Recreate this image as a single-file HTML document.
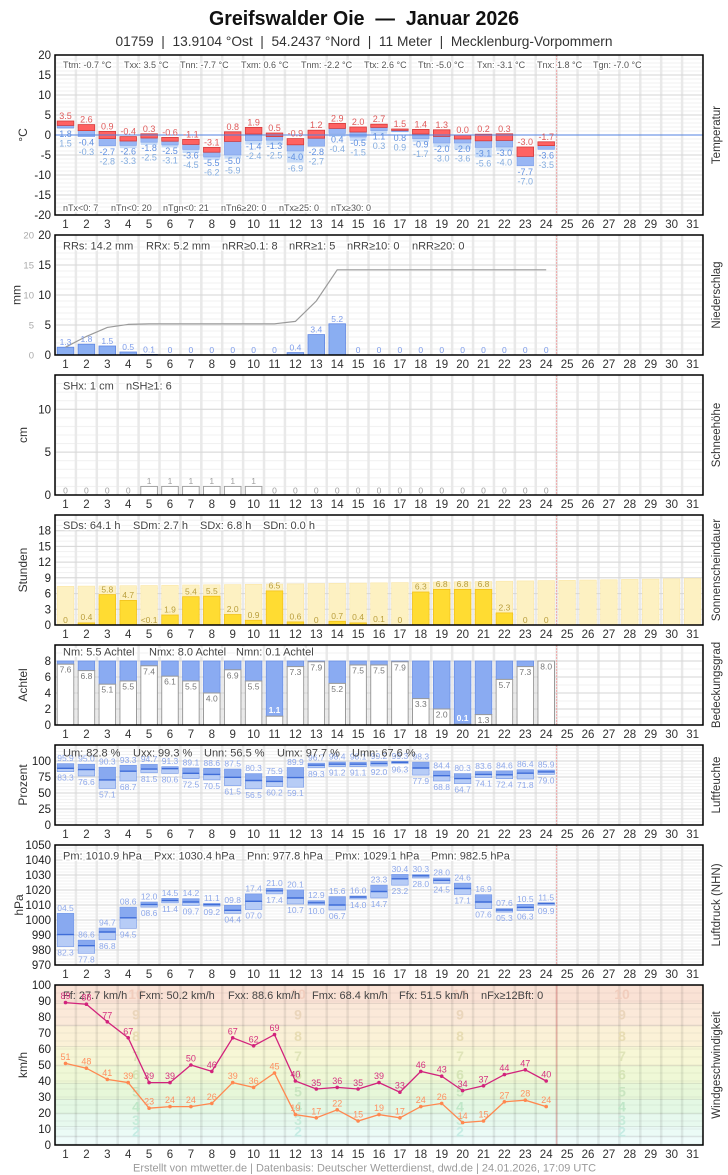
<!DOCTYPE html>
<html><head><meta charset="utf-8">
<style>
html,body{margin:0;padding:0;background:#fff}
svg{display:block}
text{font-family:"Liberation Sans",Arial,sans-serif}
.d{font-size:11.5px;fill:#333;text-anchor:middle}
.y{font-size:11.5px;fill:#222;text-anchor:end}
.s{font-size:11px;fill:#444}
.s9{font-size:9px;fill:#555}
.h{paint-order:stroke;stroke:#fff;stroke-width:3px;stroke-linejoin:round}
.lt{font-size:12px;fill:#333;text-anchor:middle}
.v{font-size:8.5px;text-anchor:middle}
.v9{font-size:9px;text-anchor:middle}
.rd{stroke:#f0a8a8;stroke-width:1;stroke-dasharray:2,1}
.fr{fill:none;stroke:#000;stroke-width:1.5}
</style></head><body>
<svg width="728" height="1175" viewBox="0 0 728 1175" xmlns="http://www.w3.org/2000/svg">
<defs>
<pattern id="vg" patternUnits="userSpaceOnUse" x="53.75" y="0" width="20.903" height="10"><rect width="2.5" height="10" fill="#e9e9e9"/></pattern>
<pattern id="vgW" patternUnits="userSpaceOnUse" x="53.75" y="0" width="20.903" height="10"><rect width="2.5" height="10" fill="rgba(0,0,0,0.08)"/></pattern>
<pattern id="hT" patternUnits="userSpaceOnUse" x="0" y="54.5" width="10" height="4"><rect width="10" height="1" fill="#f0f0f0"/></pattern>
<pattern id="hP" patternUnits="userSpaceOnUse" x="0" y="234.5" width="10" height="6"><rect width="10" height="1" fill="#f0f0f0"/></pattern>
<pattern id="hS" patternUnits="userSpaceOnUse" x="0" y="494.5" width="10" height="8.571"><rect width="10" height="1" fill="#f0f0f0"/></pattern>
<pattern id="hSu" patternUnits="userSpaceOnUse" x="0" y="624.5" width="10" height="5.24"><rect width="10" height="1" fill="#f0f0f0"/></pattern>
<pattern id="hC" patternUnits="userSpaceOnUse" x="0" y="724.5" width="10" height="8"><rect width="10" height="1" fill="#f0f0f0"/></pattern>
<pattern id="hH" patternUnits="userSpaceOnUse" x="0" y="824.5" width="10" height="3.2"><rect width="10" height="1" fill="#f1f1f1"/></pattern>
<pattern id="hPr" patternUnits="userSpaceOnUse" x="0" y="844.5" width="10" height="3"><rect width="10" height="1" fill="#f1f1f1"/></pattern>
<pattern id="hW" patternUnits="userSpaceOnUse" x="0" y="1144.5" width="10" height="8"><rect width="10" height="1" fill="rgba(0,0,0,0.05)"/></pattern>
</defs>

<!-- Title -->
<text x="364" y="25" text-anchor="middle" style="font-size:20px;font-weight:bold;fill:#111;white-space:pre" textLength="310" lengthAdjust="spacingAndGlyphs">Greifswalder Oie  —  Januar 2026</text>
<text x="364" y="46" text-anchor="middle" style="font-size:14px;fill:#333;white-space:pre" textLength="497" lengthAdjust="spacingAndGlyphs">01759  |  13.9104 °Ost  |  54.2437 °Nord  |  11 Meter  |  Mecklenburg-Vorpommern</text>

<!-- ============ TEMPERATURE ============ -->
<rect x="55" y="55" width="648" height="160" fill="#fff"/>
<rect x="55" y="55" width="648" height="160" fill="url(#hT)"/>
<rect x="55" y="55" width="648" height="160" fill="url(#vg)"/>
<path d="M55 75H703M55 95H703M55 115H703M55 155H703M55 175H703M55 195H703" stroke="#d6d6d6" stroke-width="1"/>
<line x1="556.6" y1="55" x2="556.6" y2="215" class="rd"/>
<g class="s9 h">
<text x="63" y="68">Ttm: -0.7 °C</text><text x="124" y="68">Txx: 3.5 °C</text><text x="180" y="68">Tnn: -7.7 °C</text><text x="241" y="68">Txm: 0.6 °C</text><text x="301" y="68">Tnm: -2.2 °C</text><text x="364" y="68">Ttx: 2.6 °C</text><text x="418" y="68">Ttn: -5.0 °C</text><text x="477" y="68">Txn: -3.1 °C</text><text x="537" y="68">Tnx: 1.8 °C</text><text x="593" y="68">Tgn: -7.0 °C</text>
<text x="63" y="211">nTx&lt;0: 7</text><text x="111" y="211">nTn&lt;0: 20</text><text x="163" y="211">nTgn&lt;0: 21</text><text x="221" y="211">nTn6≥20: 0</text><text x="279" y="211">nTx≥25: 0</text><text x="331" y="211">nTx≥30: 0</text>
</g>
<g fill="#c8dcf8">
<rect x="57.2" y="127.8" width="16.6" height="1.2"/><rect x="99" y="145.8" width="16.6" height="0.4"/><rect x="119.9" y="145.4" width="16.6" height="2.8"/><rect x="140.8" y="142.2" width="16.6" height="2.8"/><rect x="161.7" y="145" width="16.6" height="2.4"/><rect x="182.6" y="149.4" width="16.6" height="3.6"/><rect x="203.5" y="157" width="16.6" height="2.8"/><rect x="224.4" y="155" width="16.6" height="3.6"/><rect x="245.3" y="140.6" width="16.6" height="4"/><rect x="266.2" y="140.2" width="16.6" height="4.8"/><rect x="287.1" y="151" width="16.6" height="11.6"/><rect x="328.9" y="133.4" width="16.6" height="3.2"/><rect x="349.8" y="137" width="16.6" height="4"/><rect x="370.7" y="130.6" width="16.6" height="3.2"/><rect x="412.5" y="138.6" width="16.6" height="3.2"/><rect x="433.4" y="143" width="16.6" height="4"/><rect x="454.3" y="143" width="16.6" height="6.4"/><rect x="475.2" y="147.4" width="16.6" height="10"/><rect x="496.1" y="147" width="16.6" height="4"/>
</g>
<g fill="#98b6f4" stroke="#7d9fe8" stroke-width="0.6">
<rect x="57.2" y="125.4" width="16.6" height="2.4"/><rect x="78.1" y="130.6" width="16.6" height="6"/><rect x="99" y="138.6" width="16.6" height="7.2"/><rect x="119.9" y="141" width="16.6" height="4.4"/><rect x="140.8" y="138" width="16.6" height="4.2"/><rect x="161.7" y="141.2" width="16.6" height="3.8"/><rect x="182.6" y="144.4" width="16.6" height="5"/><rect x="203.5" y="152.2" width="16.6" height="4.8"/><rect x="224.4" y="141.4" width="16.6" height="13.6"/><rect x="245.3" y="134" width="16.6" height="6.6"/><rect x="266.2" y="136.6" width="16.6" height="3.6"/><rect x="287.1" y="144.8" width="16.6" height="6.2"/><rect x="308" y="138.2" width="16.6" height="8"/><rect x="328.9" y="128.4" width="16.6" height="5"/><rect x="349.8" y="132" width="16.6" height="5"/><rect x="370.7" y="127.4" width="16.6" height="3.2"/><rect x="391.6" y="130.4" width="16.6" height="1.4"/><rect x="412.5" y="134" width="16.6" height="4.6"/><rect x="433.4" y="136.4" width="16.6" height="6.6"/><rect x="454.3" y="139" width="16.6" height="4"/><rect x="475.2" y="140.8" width="16.6" height="6.6"/><rect x="496.1" y="140.4" width="16.6" height="6.6"/><rect x="517" y="156.4" width="16.6" height="9.4"/><rect x="537.9" y="145.6" width="16.6" height="3.8"/>
</g>
<g fill="#ff6262" stroke="#d43a3a" stroke-width="0.8">
<rect x="57.2" y="121" width="16.6" height="4.4"/><rect x="78.1" y="124.6" width="16.6" height="6"/><rect x="99" y="131.4" width="16.6" height="7.2"/><rect x="119.9" y="136.6" width="16.6" height="4.4"/><rect x="140.8" y="133.8" width="16.6" height="4.2"/><rect x="161.7" y="137.4" width="16.6" height="3.8"/><rect x="182.6" y="139.4" width="16.6" height="5"/><rect x="203.5" y="147.4" width="16.6" height="4.8"/><rect x="224.4" y="131.8" width="16.6" height="9.6"/><rect x="245.3" y="127.4" width="16.6" height="6.6"/><rect x="266.2" y="133" width="16.6" height="3.6"/><rect x="287.1" y="138.6" width="16.6" height="6.2"/><rect x="308" y="130.2" width="16.6" height="8"/><rect x="328.9" y="123.4" width="16.6" height="5"/><rect x="349.8" y="127" width="16.6" height="5"/><rect x="370.7" y="124.2" width="16.6" height="3.2"/><rect x="391.6" y="129" width="16.6" height="1.4"/><rect x="412.5" y="129.4" width="16.6" height="4.6"/><rect x="433.4" y="129.8" width="16.6" height="6.6"/><rect x="454.3" y="135" width="16.6" height="4"/><rect x="475.2" y="134.2" width="16.6" height="6.6"/><rect x="496.1" y="133.8" width="16.6" height="6.6"/><rect x="517" y="147" width="16.6" height="9.4"/><rect x="537.9" y="141.8" width="16.6" height="3.8"/>
</g>
<line x1="55" y1="135" x2="703" y2="135" stroke="#5282e0" stroke-width="1.1"/>
<g class="v9" fill="#e05a5a">
<text x="65.5" y="119">3.5</text><text x="86.4" y="122.6">2.6</text><text x="107.3" y="129.4">0.9</text><text x="128.2" y="134.6">-0.4</text><text x="149.1" y="131.8">0.3</text><text x="170" y="135.4">-0.6</text><text x="190.9" y="137.4">-1.1</text><text x="211.8" y="145.4">-3.1</text><text x="232.7" y="129.8">0.8</text><text x="253.6" y="125.4">1.9</text><text x="274.5" y="131">0.5</text><text x="295.4" y="136.6">-0.9</text><text x="316.3" y="128.2">1.2</text><text x="337.2" y="121.4">2.9</text><text x="358.1" y="125">2.0</text><text x="379" y="122.2">2.7</text><text x="399.9" y="127">1.5</text><text x="420.8" y="127.4">1.4</text><text x="441.7" y="127.8">1.3</text><text x="462.6" y="133">0.0</text><text x="483.5" y="132.2">0.2</text><text x="504.4" y="131.8">0.3</text><text x="525.3" y="145">-3.0</text><text x="546.2" y="139.8">-1.7</text>
</g>
<g class="v9" fill="#5f8fe0">
<text x="65.5" y="136.8">1.8</text><text x="86.4" y="145.6">-0.4</text><text x="107.3" y="154.8">-2.7</text><text x="128.2" y="154.4">-2.6</text><text x="149.1" y="151.2">-1.8</text><text x="170" y="154">-2.5</text><text x="190.9" y="158.4">-3.6</text><text x="211.8" y="166">-5.5</text><text x="232.7" y="164">-5.0</text><text x="253.6" y="149.6">-1.4</text><text x="274.5" y="149.2">-1.3</text><text x="295.4" y="160">-4.0</text><text x="316.3" y="155.2">-2.8</text><text x="337.2" y="142.4">0.4</text><text x="358.1" y="146">-0.5</text><text x="379" y="139.6">1.1</text><text x="399.9" y="140.8">0.8</text><text x="420.8" y="147.6">-0.9</text><text x="441.7" y="152">-2.0</text><text x="462.6" y="152">-2.0</text><text x="483.5" y="156.4">-3.1</text><text x="504.4" y="156">-3.0</text><text x="525.3" y="174.8">-7.7</text><text x="546.2" y="158.4">-3.6</text>
</g>
<g class="v9" fill="#84ade0">
<text x="65.5" y="146.3">1.5</text><text x="86.4" y="155.1">-0.3</text><text x="107.3" y="164.3">-2.8</text><text x="128.2" y="163.9">-3.3</text><text x="149.1" y="160.7">-2.5</text><text x="170" y="163.5">-3.1</text><text x="190.9" y="167.9">-4.5</text><text x="211.8" y="175.5">-6.2</text><text x="232.7" y="173.5">-5.9</text><text x="253.6" y="159.1">-2.4</text><text x="274.5" y="158.7">-2.5</text><text x="295.4" y="171.6">-6.9</text><text x="316.3" y="164.7">-2.7</text><text x="337.2" y="151.9">-0.4</text><text x="358.1" y="155.5">-1.5</text><text x="379" y="149.1">0.3</text><text x="399.9" y="150.3">0.9</text><text x="420.8" y="157.1">-1.7</text><text x="441.7" y="161.5">-3.0</text><text x="462.6" y="161.5">-3.6</text><text x="483.5" y="166.4">-5.6</text><text x="504.4" y="165.5">-4.0</text><text x="525.3" y="184.3">-7.0</text><text x="546.2" y="167.9">-3.5</text>
</g>
<rect x="55" y="55" width="648" height="160" class="fr"/>
<g class="y"><text x="51" y="59">20</text><text x="51" y="79">15</text><text x="51" y="99">10</text><text x="51" y="119">5</text><text x="51" y="139">0</text><text x="51" y="159">-5</text><text x="51" y="179">-10</text><text x="51" y="199">-15</text><text x="51" y="219">-20</text></g>
<text class="lt" transform="translate(27,135) rotate(-90)">°C</text>
<text class="lt" style="font-size:11.5px" transform="translate(720,135) rotate(-90)">Temperatur</text>
<g class="d" transform="translate(0,228)"><text x="65.5">1</text><text x="86.4">2</text><text x="107.3">3</text><text x="128.2">4</text><text x="149.1">5</text><text x="170">6</text><text x="190.9">7</text><text x="211.8">8</text><text x="232.7">9</text><text x="253.6">10</text><text x="274.5">11</text><text x="295.4">12</text><text x="316.3">13</text><text x="337.2">14</text><text x="358.1">15</text><text x="379">16</text><text x="399.9">17</text><text x="420.8">18</text><text x="441.7">19</text><text x="462.6">20</text><text x="483.5">21</text><text x="504.4">22</text><text x="525.3">23</text><text x="546.2">24</text><text x="567.1">25</text><text x="588">26</text><text x="608.9">27</text><text x="629.8">28</text><text x="650.7">29</text><text x="671.6">30</text><text x="692.6">31</text></g>

<!-- ============ PRECIPITATION ============ -->
<rect x="55" y="235" width="648" height="120" fill="#fff"/>
<rect x="55" y="235" width="648" height="120" fill="url(#hP)"/>
<rect x="55" y="235" width="648" height="120" fill="url(#vg)"/>
<path d="M55 265H703M55 295H703M55 325H703" stroke="#d6d6d6" stroke-width="1"/>
<line x1="556.6" y1="235" x2="556.6" y2="355" class="rd"/>
<g class="s h">
<text x="63" y="249.5">RRs: 14.2 mm</text><text x="146" y="249.5">RRx: 5.2 mm</text><text x="222" y="249.5">nRR≥0.1: 8</text><text x="289" y="249.5">nRR≥1: 5</text><text x="347" y="249.5">nRR≥10: 0</text><text x="412" y="249.5">nRR≥20: 0</text>
</g>
<g fill="#8aaef2" stroke="#5f86e2" stroke-width="0.8">
<rect x="57.2" y="347.2" width="16.6" height="7.8"/><rect x="78.1" y="344.2" width="16.6" height="10.8"/><rect x="99" y="346" width="16.6" height="9"/><rect x="119.9" y="352" width="16.6" height="3"/><rect x="140.8" y="354.4" width="16.6" height="0.6"/><rect x="287.1" y="352.6" width="16.6" height="2.4"/><rect x="308" y="334.6" width="16.6" height="20.4"/><rect x="328.9" y="323.8" width="16.6" height="31.2"/>
</g>
<polyline fill="none" stroke="#9a9a9a" stroke-width="1.2" points="65.5,347.2 86.4,336.4 107.3,327.4 128.2,324.4 149.1,323.8 274.5,323.8 295.4,321.4 316.3,301 337.2,269.8 546.2,269.8"/>
<g class="v" fill="#7d9cea">
<text x="65.5" y="345.2">1.3</text><text x="86.4" y="342.2">1.8</text><text x="107.3" y="344">1.5</text><text x="128.2" y="350">0.5</text><text x="149.1" y="352.4">0.1</text><text x="170" y="353">0</text><text x="190.9" y="353">0</text><text x="211.8" y="353">0</text><text x="232.7" y="353">0</text><text x="253.6" y="353">0</text><text x="274.5" y="353">0</text><text x="295.4" y="350.6">0.4</text><text x="316.3" y="332.6">3.4</text><text x="337.2" y="321.8">5.2</text><text x="358.1" y="353">0</text><text x="379" y="353">0</text><text x="399.9" y="353">0</text><text x="420.8" y="353">0</text><text x="441.7" y="353">0</text><text x="462.6" y="353">0</text><text x="483.5" y="353">0</text><text x="504.4" y="353">0</text><text x="525.3" y="353">0</text><text x="546.2" y="353">0</text>
</g>
<rect x="55" y="235" width="648" height="120" class="fr"/>
<g class="y"><text x="51" y="239">20</text><text x="51" y="269">15</text><text x="51" y="299">10</text><text x="51" y="329">5</text><text x="51" y="359">0</text></g>
<g style="font-size:9.5px;fill:#aaa;text-anchor:end"><text x="34" y="238.5">20</text><text x="34" y="268.5">15</text><text x="34" y="298.5">10</text><text x="34" y="328.5">5</text><text x="34" y="358.5">0</text></g>
<text class="lt" transform="translate(20.5,295) rotate(-90)">mm</text>
<text class="lt" style="font-size:11.5px" transform="translate(720,295) rotate(-90)">Niederschlag</text>
<g class="d" transform="translate(0,368)"><text x="65.5">1</text><text x="86.4">2</text><text x="107.3">3</text><text x="128.2">4</text><text x="149.1">5</text><text x="170">6</text><text x="190.9">7</text><text x="211.8">8</text><text x="232.7">9</text><text x="253.6">10</text><text x="274.5">11</text><text x="295.4">12</text><text x="316.3">13</text><text x="337.2">14</text><text x="358.1">15</text><text x="379">16</text><text x="399.9">17</text><text x="420.8">18</text><text x="441.7">19</text><text x="462.6">20</text><text x="483.5">21</text><text x="504.4">22</text><text x="525.3">23</text><text x="546.2">24</text><text x="567.1">25</text><text x="588">26</text><text x="608.9">27</text><text x="629.8">28</text><text x="650.7">29</text><text x="671.6">30</text><text x="692.6">31</text></g>

<!-- ============ SNOW ============ -->
<rect x="55" y="375" width="648" height="120" fill="#fff"/>
<rect x="55" y="375" width="648" height="120" fill="url(#hS)"/>
<rect x="55" y="375" width="648" height="120" fill="url(#vg)"/>
<path d="M55 409.3H703M55 452.1H703" stroke="#d6d6d6" stroke-width="1"/>
<line x1="556.6" y1="375" x2="556.6" y2="495" class="rd"/>
<g class="s h"><text x="63" y="389.5">SHx: 1 cm</text><text x="126" y="389.5">nSH≥1: 6</text></g>
<g fill="#fff" stroke="#999" stroke-width="0.9">
<rect x="140.8" y="486.4" width="16.6" height="8.6"/><rect x="161.7" y="486.4" width="16.6" height="8.6"/><rect x="182.6" y="486.4" width="16.6" height="8.6"/><rect x="203.5" y="486.4" width="16.6" height="8.6"/><rect x="224.4" y="486.4" width="16.6" height="8.6"/><rect x="245.3" y="486.4" width="16.6" height="8.6"/>
</g>
<g class="v" fill="#a0a0a0">
<text x="65.5" y="493.5">0</text><text x="86.4" y="493.5">0</text><text x="107.3" y="493.5">0</text><text x="128.2" y="493.5">0</text><text x="149.1" y="484">1</text><text x="170" y="484">1</text><text x="190.9" y="484">1</text><text x="211.8" y="484">1</text><text x="232.7" y="484">1</text><text x="253.6" y="484">1</text><text x="274.5" y="493.5">0</text><text x="295.4" y="493.5">0</text><text x="316.3" y="493.5">0</text><text x="337.2" y="493.5">0</text><text x="358.1" y="493.5">0</text><text x="379" y="493.5">0</text><text x="399.9" y="493.5">0</text><text x="420.8" y="493.5">0</text><text x="441.7" y="493.5">0</text><text x="462.6" y="493.5">0</text><text x="483.5" y="493.5">0</text><text x="504.4" y="493.5">0</text><text x="525.3" y="493.5">0</text><text x="546.2" y="493.5">0</text>
</g>
<rect x="55" y="375" width="648" height="120" class="fr"/>
<g class="y"><text x="51" y="413.3">10</text><text x="51" y="456.1">5</text><text x="51" y="499">0</text></g>
<text class="lt" transform="translate(27,435) rotate(-90)">cm</text>
<text class="lt" style="font-size:11.5px" transform="translate(720,435) rotate(-90)">Schneehöhe</text>
<g class="d" transform="translate(0,508)"><text x="65.5">1</text><text x="86.4">2</text><text x="107.3">3</text><text x="128.2">4</text><text x="149.1">5</text><text x="170">6</text><text x="190.9">7</text><text x="211.8">8</text><text x="232.7">9</text><text x="253.6">10</text><text x="274.5">11</text><text x="295.4">12</text><text x="316.3">13</text><text x="337.2">14</text><text x="358.1">15</text><text x="379">16</text><text x="399.9">17</text><text x="420.8">18</text><text x="441.7">19</text><text x="462.6">20</text><text x="483.5">21</text><text x="504.4">22</text><text x="525.3">23</text><text x="546.2">24</text><text x="567.1">25</text><text x="588">26</text><text x="608.9">27</text><text x="629.8">28</text><text x="650.7">29</text><text x="671.6">30</text><text x="692.6">31</text></g>

<!-- ============ SUNSHINE ============ -->
<rect x="55" y="515" width="648" height="110" fill="#fff"/>
<rect x="55" y="515" width="648" height="110" fill="url(#hSu)"/>
<rect x="55" y="515" width="648" height="110" fill="url(#vg)"/>
<path d="M55 609.3H703M55 593.6H703M55 577.8H703M55 562.1H703M55 546.4H703M55 530.7H703" stroke="#d6d6d6" stroke-width="1"/>
<line x1="556.6" y1="515" x2="556.6" y2="625" class="rd"/>
<g fill="#fdf1c2" stroke="#fbe6a6" stroke-width="0.6">
<rect x="57.2" y="586.3" width="16.6" height="38.7"/><rect x="78.1" y="586.1" width="16.6" height="38.9"/><rect x="99" y="585.9" width="16.6" height="39.1"/><rect x="119.9" y="585.7" width="16.6" height="39.3"/><rect x="140.8" y="585.5" width="16.6" height="39.5"/><rect x="161.7" y="585.25" width="16.6" height="39.75"/><rect x="182.6" y="585" width="16.6" height="40"/><rect x="203.5" y="584.8" width="16.6" height="40.2"/><rect x="224.4" y="584.6" width="16.6" height="40.4"/><rect x="245.3" y="584.3" width="16.6" height="40.7"/><rect x="266.2" y="584.1" width="16.6" height="40.9"/><rect x="287.1" y="583.9" width="16.6" height="41.1"/><rect x="308" y="583.6" width="16.6" height="41.4"/><rect x="328.9" y="583.4" width="16.6" height="41.6"/><rect x="349.8" y="583.1" width="16.6" height="41.9"/><rect x="370.7" y="582.85" width="16.6" height="42.15"/><rect x="391.6" y="582.6" width="16.6" height="42.4"/><rect x="412.5" y="582.3" width="16.6" height="42.7"/><rect x="433.4" y="582.05" width="16.6" height="42.95"/><rect x="454.3" y="581.8" width="16.6" height="43.2"/><rect x="475.2" y="581.5" width="16.6" height="43.5"/><rect x="496.1" y="581.2" width="16.6" height="43.8"/><rect x="517" y="580.9" width="16.6" height="44.1"/><rect x="537.9" y="580.6" width="16.6" height="44.4"/><rect x="558.8" y="580.35" width="16.6" height="44.65"/><rect x="579.7" y="580.05" width="16.6" height="44.95"/><rect x="600.6" y="579.75" width="16.6" height="45.25"/><rect x="621.5" y="579.4" width="16.6" height="45.6"/><rect x="642.4" y="579.1" width="16.6" height="45.9"/><rect x="663.3" y="578.8" width="16.6" height="46.2"/><rect x="684.3" y="578.5" width="16.6" height="46.5"/>
</g>
<g fill="#ffdc32" stroke="#f2c21c" stroke-width="0.8">
<rect x="78.1" y="622.9" width="16.6" height="2.1"/><rect x="99" y="594.6" width="16.6" height="30.4"/><rect x="119.9" y="600.4" width="16.6" height="24.6"/><rect x="140.8" y="624.6" width="16.6" height="0.4"/><rect x="161.7" y="615" width="16.6" height="10"/><rect x="182.6" y="596.7" width="16.6" height="28.3"/><rect x="203.5" y="596.2" width="16.6" height="28.8"/><rect x="224.4" y="614.5" width="16.6" height="10.5"/><rect x="245.3" y="620.3" width="16.6" height="4.7"/><rect x="266.2" y="590.9" width="16.6" height="34.1"/><rect x="287.1" y="621.9" width="16.6" height="3.1"/><rect x="328.9" y="621.3" width="16.6" height="3.7"/><rect x="349.8" y="622.9" width="16.6" height="2.1"/><rect x="370.7" y="624.5" width="16.6" height="0.5"/><rect x="412.5" y="592" width="16.6" height="33"/><rect x="433.4" y="589.4" width="16.6" height="35.6"/><rect x="454.3" y="589.4" width="16.6" height="35.6"/><rect x="475.2" y="589.4" width="16.6" height="35.6"/><rect x="496.1" y="612.9" width="16.6" height="12.1"/>
</g>
<g class="s h"><text x="63" y="529">SDs: 64.1 h</text><text x="133" y="529">SDm: 2.7 h</text><text x="200" y="529">SDx: 6.8 h</text><text x="263" y="529">SDn: 0.0 h</text></g>
<g class="v" fill="#b99e3c">
<text x="65.5" y="623">0</text><text x="86.4" y="620.2">0.4</text><text x="107.3" y="592.3">5.8</text><text x="128.2" y="598.1">4.7</text><text x="149.1" y="623">&lt;0.1</text><text x="170" y="612.7">1.9</text><text x="190.9" y="594.4">5.4</text><text x="211.8" y="593.9">5.5</text><text x="232.7" y="612.2">2.0</text><text x="253.6" y="618">0.9</text><text x="274.5" y="588.6">6.5</text><text x="295.4" y="619.6">0.6</text><text x="316.3" y="623">0</text><text x="337.2" y="619">0.7</text><text x="358.1" y="620.2">0.4</text><text x="379" y="622">0.1</text><text x="399.9" y="623">0</text><text x="420.8" y="589.7">6.3</text><text x="441.7" y="587.1">6.8</text><text x="462.6" y="587.1">6.8</text><text x="483.5" y="587.1">6.8</text><text x="504.4" y="610.6">2.3</text><text x="525.3" y="623">0</text><text x="546.2" y="623">0</text>
</g>
<rect x="55" y="515" width="648" height="110" class="fr"/>
<g class="y"><text x="51" y="534.7">18</text><text x="51" y="550.4">15</text><text x="51" y="566.1">12</text><text x="51" y="581.8">9</text><text x="51" y="597.6">6</text><text x="51" y="613.3">3</text><text x="51" y="629">0</text></g>
<text class="lt" transform="translate(27,570) rotate(-90)">Stunden</text>
<text class="lt" style="font-size:11.5px" transform="translate(720,570) rotate(-90)">Sonnenscheindauer</text>
<g class="d" transform="translate(0,638)"><text x="65.5">1</text><text x="86.4">2</text><text x="107.3">3</text><text x="128.2">4</text><text x="149.1">5</text><text x="170">6</text><text x="190.9">7</text><text x="211.8">8</text><text x="232.7">9</text><text x="253.6">10</text><text x="274.5">11</text><text x="295.4">12</text><text x="316.3">13</text><text x="337.2">14</text><text x="358.1">15</text><text x="379">16</text><text x="399.9">17</text><text x="420.8">18</text><text x="441.7">19</text><text x="462.6">20</text><text x="483.5">21</text><text x="504.4">22</text><text x="525.3">23</text><text x="546.2">24</text><text x="567.1">25</text><text x="588">26</text><text x="608.9">27</text><text x="629.8">28</text><text x="650.7">29</text><text x="671.6">30</text><text x="692.6">31</text></g>

<!-- ============ CLOUD COVER ============ -->
<rect x="55" y="645" width="648" height="80" fill="#fff"/>
<rect x="55" y="645" width="648" height="80" fill="url(#hC)"/>
<rect x="55" y="645" width="648" height="80" fill="url(#vg)"/>
<path d="M55 709H703M55 693H703M55 677H703M55 661H703" stroke="#d6d6d6" stroke-width="1"/>
<line x1="556.6" y1="645" x2="556.6" y2="725" class="rd"/>
<g fill="#8aabf2" stroke="#6a8fe4" stroke-width="0.8">
<rect x="57.2" y="661" width="16.6" height="3.2"/><rect x="78.1" y="661" width="16.6" height="9.6"/><rect x="99" y="661" width="16.6" height="23.2"/><rect x="119.9" y="661" width="16.6" height="20"/><rect x="140.8" y="661" width="16.6" height="4.8"/><rect x="161.7" y="661" width="16.6" height="15.2"/><rect x="182.6" y="661" width="16.6" height="20"/><rect x="203.5" y="661" width="16.6" height="32"/><rect x="224.4" y="661" width="16.6" height="8.8"/><rect x="245.3" y="661" width="16.6" height="20"/><rect x="266.2" y="661" width="16.6" height="55.2"/><rect x="287.1" y="661" width="16.6" height="5.6"/><rect x="308" y="661" width="16.6" height="0.8"/><rect x="328.9" y="661" width="16.6" height="22.4"/><rect x="349.8" y="661" width="16.6" height="4"/><rect x="370.7" y="661" width="16.6" height="4"/><rect x="391.6" y="661" width="16.6" height="0.8"/><rect x="412.5" y="661" width="16.6" height="37.6"/><rect x="433.4" y="661" width="16.6" height="48"/><rect x="454.3" y="661" width="16.6" height="63.2"/><rect x="475.2" y="661" width="16.6" height="53.6"/><rect x="496.1" y="661" width="16.6" height="18.4"/><rect x="517" y="661" width="16.6" height="5.6"/>
</g>
<g fill="#fff" stroke="#9a9a9a" stroke-width="1">
<rect x="57.2" y="664.2" width="16.6" height="60.8"/><rect x="78.1" y="670.6" width="16.6" height="54.4"/><rect x="99" y="684.2" width="16.6" height="40.8"/><rect x="119.9" y="681" width="16.6" height="44"/><rect x="140.8" y="665.8" width="16.6" height="59.2"/><rect x="161.7" y="676.2" width="16.6" height="48.8"/><rect x="182.6" y="681" width="16.6" height="44"/><rect x="203.5" y="693" width="16.6" height="32"/><rect x="224.4" y="669.8" width="16.6" height="55.2"/><rect x="245.3" y="681" width="16.6" height="44"/><rect x="266.2" y="716.2" width="16.6" height="8.8"/><rect x="287.1" y="666.6" width="16.6" height="58.4"/><rect x="308" y="661.8" width="16.6" height="63.2"/><rect x="328.9" y="683.4" width="16.6" height="41.6"/><rect x="349.8" y="665" width="16.6" height="60"/><rect x="370.7" y="665" width="16.6" height="60"/><rect x="391.6" y="661.8" width="16.6" height="63.2"/><rect x="412.5" y="698.6" width="16.6" height="26.4"/><rect x="433.4" y="709" width="16.6" height="16"/><rect x="454.3" y="724.2" width="16.6" height="0.8"/><rect x="475.2" y="714.6" width="16.6" height="10.4"/><rect x="496.1" y="679.4" width="16.6" height="45.6"/><rect x="517" y="666.6" width="16.6" height="58.4"/><rect x="537.9" y="661" width="16.6" height="64"/>
</g>
<g class="s h"><text x="63" y="655.5">Nm: 5.5 Achtel</text><text x="149" y="655.5">Nmx: 8.0 Achtel</text><text x="236" y="655.5">Nmn: 0.1 Achtel</text></g>
<g class="v" fill="#777">
<text x="65.5" y="672.7">7.6</text><text x="86.4" y="679.1">6.8</text><text x="107.3" y="692.7">5.1</text><text x="128.2" y="689.5">5.5</text><text x="149.1" y="674.3">7.4</text><text x="170" y="684.7">6.1</text><text x="190.9" y="689.5">5.5</text><text x="211.8" y="701.5">4.0</text><text x="232.7" y="678.3">6.9</text><text x="253.6" y="689.5">5.5</text><text x="295.4" y="675.1">7.3</text><text x="316.3" y="670.3">7.9</text><text x="337.2" y="691.9">5.2</text><text x="358.1" y="673.5">7.5</text><text x="379" y="673.5">7.5</text><text x="399.9" y="670.3">7.9</text><text x="420.8" y="707.1">3.3</text><text x="441.7" y="717.5">2.0</text><text x="483.5" y="723.1">1.3</text><text x="504.4" y="687.9">5.7</text><text x="525.3" y="675.1">7.3</text><text x="546.2" y="669.5">8.0</text>
</g>
<g class="v" fill="#fff" style="font-weight:bold"><text x="274.5" y="713">1.1</text><text x="462.6" y="721">0.1</text></g>
<rect x="55" y="645" width="648" height="80" class="fr"/>
<g class="y"><text x="51" y="665">8</text><text x="51" y="681">6</text><text x="51" y="697">4</text><text x="51" y="713">2</text><text x="51" y="729">0</text></g>
<text class="lt" transform="translate(27,685) rotate(-90)">Achtel</text>
<text class="lt" style="font-size:11.5px" transform="translate(720,685) rotate(-90)">Bedeckungsgrad</text>
<g class="d" transform="translate(0,738)"><text x="65.5">1</text><text x="86.4">2</text><text x="107.3">3</text><text x="128.2">4</text><text x="149.1">5</text><text x="170">6</text><text x="190.9">7</text><text x="211.8">8</text><text x="232.7">9</text><text x="253.6">10</text><text x="274.5">11</text><text x="295.4">12</text><text x="316.3">13</text><text x="337.2">14</text><text x="358.1">15</text><text x="379">16</text><text x="399.9">17</text><text x="420.8">18</text><text x="441.7">19</text><text x="462.6">20</text><text x="483.5">21</text><text x="504.4">22</text><text x="525.3">23</text><text x="546.2">24</text><text x="567.1">25</text><text x="588">26</text><text x="608.9">27</text><text x="629.8">28</text><text x="650.7">29</text><text x="671.6">30</text><text x="692.6">31</text></g>

<!-- ============ HUMIDITY ============ -->
<rect x="55" y="745" width="648" height="80" fill="#fff"/>
<rect x="55" y="745" width="648" height="80" fill="url(#hH)"/>
<rect x="55" y="745" width="648" height="80" fill="url(#vg)"/>
<path d="M55 809H703M55 793H703M55 777H703M55 761H703" stroke="#d6d6d6" stroke-width="1"/>
<line x1="556.6" y1="745" x2="556.6" y2="825" class="rd"/>
<g fill="#b7ccf6" stroke="#7497e6" stroke-width="0.6">
<rect x="57.2" y="768.3" width="16.6" height="3.4"/><rect x="78.1" y="769.6" width="16.6" height="6.4"/><rect x="99" y="779.9" width="16.6" height="8.6"/><rect x="119.9" y="771.2" width="16.6" height="9.8"/><rect x="140.8" y="769.1" width="16.6" height="3.7"/><rect x="161.7" y="768.7" width="16.6" height="4.7"/><rect x="182.6" y="773.3" width="16.6" height="5.3"/><rect x="203.5" y="774.4" width="16.6" height="5.5"/><rect x="224.4" y="777.3" width="16.6" height="8.3"/><rect x="245.3" y="780.5" width="16.6" height="8.3"/><rect x="266.2" y="781.4" width="16.6" height="5.1"/><rect x="287.1" y="777.6" width="16.6" height="9.6"/><rect x="308" y="765.2" width="16.6" height="2.6"/><rect x="328.9" y="764.2" width="16.6" height="2.4"/><rect x="349.8" y="764.2" width="16.6" height="2.5"/><rect x="370.7" y="763.6" width="16.6" height="2.5"/><rect x="391.6" y="762.3" width="16.6" height="1.1"/><rect x="412.5" y="768" width="16.6" height="7.1"/><rect x="433.4" y="775.7" width="16.6" height="5.3"/><rect x="454.3" y="778.6" width="16.6" height="5"/><rect x="475.2" y="774.4" width="16.6" height="3.2"/><rect x="496.1" y="774.8" width="16.6" height="3.9"/><rect x="517" y="773.2" width="16.6" height="5.8"/><rect x="537.9" y="771.9" width="16.6" height="2.5"/>
</g>
<g fill="#88a9f0" stroke="#7497e6" stroke-width="0.6">
<rect x="57.2" y="763.6" width="16.6" height="4.7"/><rect x="78.1" y="764.2" width="16.6" height="5.4"/><rect x="99" y="767.2" width="16.6" height="12.7"/><rect x="119.9" y="765.3" width="16.6" height="5.9"/><rect x="140.8" y="764.4" width="16.6" height="4.7"/><rect x="161.7" y="766.6" width="16.6" height="2.1"/><rect x="182.6" y="768" width="16.6" height="5.3"/><rect x="203.5" y="768.3" width="16.6" height="6.1"/><rect x="224.4" y="769" width="16.6" height="8.3"/><rect x="245.3" y="773.6" width="16.6" height="6.9"/><rect x="266.2" y="776.4" width="16.6" height="5"/><rect x="287.1" y="767.5" width="16.6" height="10.1"/><rect x="308" y="763.1" width="16.6" height="2.1"/><rect x="328.9" y="762" width="16.6" height="2.2"/><rect x="349.8" y="762.2" width="16.6" height="2"/><rect x="370.7" y="761.5" width="16.6" height="2.1"/><rect x="391.6" y="761.4" width="16.6" height="0.9"/><rect x="412.5" y="762.1" width="16.6" height="5.9"/><rect x="433.4" y="771" width="16.6" height="4.7"/><rect x="454.3" y="773.6" width="16.6" height="5"/><rect x="475.2" y="771.5" width="16.6" height="2.9"/><rect x="496.1" y="770.9" width="16.6" height="3.9"/><rect x="517" y="769.7" width="16.6" height="3.5"/><rect x="537.9" y="770" width="16.6" height="1.9"/>
</g>
<path stroke="#3f6dd8" stroke-width="1.4" d="M57.2 768.3h16.6M78.1 769.6h16.6M99 779.9h16.6M119.9 771.2h16.6M140.8 769.1h16.6M161.7 768.7h16.6M182.6 773.3h16.6M203.5 774.4h16.6M224.4 777.3h16.6M245.3 780.5h16.6M266.2 781.4h16.6M287.1 777.6h16.6M308 765.2h16.6M328.9 764.2h16.6M349.8 764.2h16.6M370.7 763.6h16.6M391.6 762.3h16.6M412.5 768h16.6M433.4 775.7h16.6M454.3 778.6h16.6M475.2 774.4h16.6M496.1 774.8h16.6M517 773.2h16.6M537.9 771.9h16.6"/>
<g class="v" fill="#8ea8ea">
<text x="65.5" y="761.1">95.9</text><text x="86.4" y="761.7">95.0</text><text x="107.3" y="764.7">90.3</text><text x="128.2" y="762.8">93.3</text><text x="149.1" y="761.9">94.7</text><text x="170" y="764.1">91.3</text><text x="190.9" y="765.5">89.1</text><text x="211.8" y="765.8">88.6</text><text x="232.7" y="766.5">87.5</text><text x="253.6" y="771.1">80.3</text><text x="274.5" y="773.9">75.9</text><text x="295.4" y="765">89.9</text><text x="316.3" y="760.6">96.7</text><text x="337.2" y="759.5">98.4</text><text x="358.1" y="759.7">98.1</text><text x="379" y="759">99.2</text><text x="399.9" y="758.9">99.3</text><text x="420.8" y="759.6">98.3</text><text x="441.7" y="768.5">84.4</text><text x="462.6" y="771.1">80.3</text><text x="483.5" y="769">83.6</text><text x="504.4" y="768.4">84.6</text><text x="525.3" y="767.2">86.4</text><text x="546.2" y="767.5">85.9</text>
<text x="65.5" y="780.7">83.3</text><text x="86.4" y="785">76.6</text><text x="107.3" y="797.5">57.1</text><text x="128.2" y="790">68.7</text><text x="149.1" y="781.8">81.5</text><text x="170" y="782.4">80.6</text><text x="190.9" y="787.6">72.5</text><text x="211.8" y="788.9">70.5</text><text x="232.7" y="794.6">61.5</text><text x="253.6" y="797.8">56.5</text><text x="274.5" y="795.5">60.2</text><text x="295.4" y="796.2">59.1</text><text x="316.3" y="776.8">89.3</text><text x="337.2" y="775.6">91.2</text><text x="358.1" y="775.7">91.1</text><text x="379" y="775.1">92.0</text><text x="399.9" y="772.4">96.3</text><text x="420.8" y="784.1">77.9</text><text x="441.7" y="790">68.8</text><text x="462.6" y="792.6">64.7</text><text x="483.5" y="786.6">74.1</text><text x="504.4" y="787.7">72.4</text><text x="525.3" y="788">71.8</text><text x="546.2" y="783.4">79.0</text>
</g>
<g class="s"><text x="63" y="756.5">Um: 82.8 %</text><text x="133" y="756.5">Uxx: 99.3 %</text><text x="204" y="756.5">Unn: 56.5 %</text><text x="277" y="756.5">Umx: 97.7 %</text><text x="352" y="756.5">Umn: 67.6 %</text></g>
<rect x="55" y="745" width="648" height="80" class="fr"/>
<g class="y"><text x="51" y="765">100</text><text x="51" y="781">75</text><text x="51" y="797">50</text><text x="51" y="813">25</text><text x="51" y="829">0</text></g>
<text class="lt" transform="translate(27,785) rotate(-90)">Prozent</text>
<text class="lt" style="font-size:11.5px" transform="translate(720,785) rotate(-90)">Luftfeuchte</text>
<g class="d" transform="translate(0,838)"><text x="65.5">1</text><text x="86.4">2</text><text x="107.3">3</text><text x="128.2">4</text><text x="149.1">5</text><text x="170">6</text><text x="190.9">7</text><text x="211.8">8</text><text x="232.7">9</text><text x="253.6">10</text><text x="274.5">11</text><text x="295.4">12</text><text x="316.3">13</text><text x="337.2">14</text><text x="358.1">15</text><text x="379">16</text><text x="399.9">17</text><text x="420.8">18</text><text x="441.7">19</text><text x="462.6">20</text><text x="483.5">21</text><text x="504.4">22</text><text x="525.3">23</text><text x="546.2">24</text><text x="567.1">25</text><text x="588">26</text><text x="608.9">27</text><text x="629.8">28</text><text x="650.7">29</text><text x="671.6">30</text><text x="692.6">31</text></g>

<!-- ============ PRESSURE ============ -->
<rect x="55" y="845" width="648" height="120" fill="#fff"/>
<rect x="55" y="845" width="648" height="120" fill="url(#hPr)"/>
<rect x="55" y="845" width="648" height="120" fill="url(#vg)"/>
<path d="M55 860H703M55 875H703M55 890H703M55 905H703M55 920H703M55 935H703M55 950H703" stroke="#d6d6d6" stroke-width="1"/>
<line x1="556.6" y1="845" x2="556.6" y2="965" class="rd"/>
<g fill="#b7ccf6" stroke="#7497e6" stroke-width="0.6">
<rect x="57.2" y="934.6" width="16.6" height="12"/><rect x="78.1" y="945.7" width="16.6" height="7.6"/><rect x="99" y="932" width="16.6" height="7.8"/><rect x="119.9" y="917.8" width="16.6" height="10.5"/><rect x="140.8" y="904.6" width="16.6" height="2.5"/><rect x="161.7" y="900.5" width="16.6" height="2.4"/><rect x="182.6" y="902" width="16.6" height="3.5"/><rect x="203.5" y="904.7" width="16.6" height="1.5"/><rect x="224.4" y="910.3" width="16.6" height="3.1"/><rect x="245.3" y="901.3" width="16.6" height="8.2"/><rect x="266.2" y="890.8" width="16.6" height="3.1"/><rect x="287.1" y="898" width="16.6" height="6"/><rect x="308" y="902.8" width="16.6" height="2.2"/><rect x="328.9" y="905" width="16.6" height="5"/><rect x="349.8" y="897.1" width="16.6" height="1.9"/><rect x="370.7" y="891.5" width="16.6" height="6.5"/><rect x="391.6" y="878.8" width="16.6" height="6.4"/><rect x="412.5" y="875.8" width="16.6" height="2.2"/><rect x="433.4" y="880.3" width="16.6" height="3"/><rect x="454.3" y="888.5" width="16.6" height="5.9"/><rect x="475.2" y="902" width="16.6" height="6.6"/><rect x="496.1" y="910.1" width="16.6" height="2"/><rect x="517" y="907.4" width="16.6" height="3.2"/><rect x="537.9" y="903.5" width="16.6" height="1.7"/>
</g>
<g fill="#88a9f0" stroke="#7497e6" stroke-width="0.6">
<rect x="57.2" y="913.25" width="16.6" height="21.35"/><rect x="78.1" y="940.1" width="16.6" height="5.6"/><rect x="99" y="928" width="16.6" height="4"/><rect x="119.9" y="907.1" width="16.6" height="10.7"/><rect x="140.8" y="902" width="16.6" height="2.6"/><rect x="161.7" y="898.3" width="16.6" height="2.2"/><rect x="182.6" y="898.7" width="16.6" height="3.3"/><rect x="203.5" y="903.4" width="16.6" height="1.3"/><rect x="224.4" y="905.3" width="16.6" height="5"/><rect x="245.3" y="893.9" width="16.6" height="7.4"/><rect x="266.2" y="888.5" width="16.6" height="2.3"/><rect x="287.1" y="889.9" width="16.6" height="8.1"/><rect x="308" y="900.7" width="16.6" height="2.1"/><rect x="328.9" y="896.6" width="16.6" height="8.4"/><rect x="349.8" y="896" width="16.6" height="1.1"/><rect x="370.7" y="885.1" width="16.6" height="6.4"/><rect x="391.6" y="874.4" width="16.6" height="4.4"/><rect x="412.5" y="874.6" width="16.6" height="1.2"/><rect x="433.4" y="878" width="16.6" height="2.3"/><rect x="454.3" y="883.1" width="16.6" height="5.4"/><rect x="475.2" y="894.7" width="16.6" height="7.3"/><rect x="496.1" y="908.6" width="16.6" height="1.5"/><rect x="517" y="904.3" width="16.6" height="3.1"/><rect x="537.9" y="902.8" width="16.6" height="0.7"/>
</g>
<path stroke="#3f6dd8" stroke-width="1.4" d="M57.2 934.6h16.6M78.1 945.7h16.6M99 932h16.6M119.9 917.8h16.6M140.8 904.6h16.6M161.7 900.5h16.6M182.6 902h16.6M203.5 904.7h16.6M224.4 910.3h16.6M245.3 901.3h16.6M266.2 890.8h16.6M287.1 898h16.6M308 902.8h16.6M328.9 905h16.6M349.8 897.1h16.6M370.7 891.5h16.6M391.6 878.8h16.6M412.5 875.8h16.6M433.4 880.3h16.6M454.3 888.5h16.6M475.2 902h16.6M496.1 910.1h16.6M517 907.4h16.6M537.9 903.5h16.6"/>
<g class="v" fill="#8ea8ea">
<text x="65.5" y="910.8">04.5</text><text x="86.4" y="937.6">86.6</text><text x="107.3" y="925.5">94.7</text><text x="128.2" y="904.6">08.6</text><text x="149.1" y="899.5">12.0</text><text x="170" y="895.8">14.5</text><text x="190.9" y="896.2">14.2</text><text x="211.8" y="900.9">11.1</text><text x="232.7" y="902.8">09.8</text><text x="253.6" y="891.4">17.4</text><text x="274.5" y="886">21.0</text><text x="295.4" y="887.4">20.1</text><text x="316.3" y="898.2">12.9</text><text x="337.2" y="894.1">15.6</text><text x="358.1" y="893.5">16.0</text><text x="379" y="882.6">23.3</text><text x="399.9" y="871.9">30.4</text><text x="420.8" y="872.1">30.3</text><text x="441.7" y="875.5">28.0</text><text x="462.6" y="880.6">24.6</text><text x="483.5" y="892.2">16.9</text><text x="504.4" y="906.1">07.6</text><text x="525.3" y="901.8">10.5</text><text x="546.2" y="900.3">11.5</text>
<text x="65.5" y="955.6">82.3</text><text x="86.4" y="962.3">77.8</text><text x="107.3" y="948.8">86.8</text><text x="128.2" y="937.3">94.5</text><text x="149.1" y="916.1">08.6</text><text x="170" y="911.9">11.4</text><text x="190.9" y="914.5">09.7</text><text x="211.8" y="915.2">09.2</text><text x="232.7" y="922.4">04.4</text><text x="253.6" y="918.5">07.0</text><text x="274.5" y="902.9">17.4</text><text x="295.4" y="913">10.7</text><text x="316.3" y="914">10.0</text><text x="337.2" y="919">06.7</text><text x="358.1" y="908">14.0</text><text x="379" y="907">14.7</text><text x="399.9" y="894.2">23.2</text><text x="420.8" y="887">28.0</text><text x="441.7" y="892.3">24.5</text><text x="462.6" y="903.4">17.1</text><text x="483.5" y="917.6">07.6</text><text x="504.4" y="921.1">05.3</text><text x="525.3" y="919.6">06.3</text><text x="546.2" y="914.2">09.9</text>
</g>
<g class="s h"><text x="63" y="859.5">Pm: 1010.9 hPa</text><text x="154" y="859.5">Pxx: 1030.4 hPa</text><text x="247" y="859.5">Pnn: 977.8 hPa</text><text x="335" y="859.5">Pmx: 1029.1 hPa</text><text x="431" y="859.5">Pmn: 982.5 hPa</text></g>
<rect x="55" y="845" width="648" height="120" class="fr"/>
<g class="y"><text x="51" y="849">1050</text><text x="51" y="864">1040</text><text x="51" y="879">1030</text><text x="51" y="894">1020</text><text x="51" y="909">1010</text><text x="51" y="924">1000</text><text x="51" y="939">990</text><text x="51" y="954">980</text><text x="51" y="969">970</text></g>
<text class="lt" transform="translate(23,905) rotate(-90)">hPa</text>
<text class="lt" style="font-size:11.5px" transform="translate(720,905) rotate(-90)">Luftdruck (NHN)</text>
<g class="d" transform="translate(0,978)"><text x="65.5">1</text><text x="86.4">2</text><text x="107.3">3</text><text x="128.2">4</text><text x="149.1">5</text><text x="170">6</text><text x="190.9">7</text><text x="211.8">8</text><text x="232.7">9</text><text x="253.6">10</text><text x="274.5">11</text><text x="295.4">12</text><text x="316.3">13</text><text x="337.2">14</text><text x="358.1">15</text><text x="379">16</text><text x="399.9">17</text><text x="420.8">18</text><text x="441.7">19</text><text x="462.6">20</text><text x="483.5">21</text><text x="504.4">22</text><text x="525.3">23</text><text x="546.2">24</text><text x="567.1">25</text><text x="588">26</text><text x="608.9">27</text><text x="629.8">28</text><text x="650.7">29</text><text x="671.6">30</text><text x="692.6">31</text></g>

<!-- ============ WIND ============ -->
<rect x="55" y="985" width="648" height="18.4" fill="#fae2d5"/>
<rect x="55" y="1003.4" width="648" height="22.4" fill="#fbe9d9"/>
<rect x="55" y="1025.8" width="648" height="20.8" fill="#fbf1d7"/>
<rect x="55" y="1046.6" width="648" height="19.2" fill="#f7f7d6"/>
<rect x="55" y="1065.8" width="648" height="17.6" fill="#eff8d6"/>
<rect x="55" y="1083.4" width="648" height="16" fill="#e7f7d9"/>
<rect x="55" y="1099.4" width="648" height="14.4" fill="#e4f8e4"/>
<rect x="55" y="1113.8" width="648" height="12.8" fill="#e7f9ee"/>
<rect x="55" y="1126.6" width="648" height="9.6" fill="#ebfbf6"/>
<rect x="55" y="1136.2" width="648" height="8.8" fill="#effcfb"/>
<rect x="55" y="985" width="648" height="160" fill="url(#hW)"/>
<path d="M55 1003.4H703M55 1025.8H703M55 1046.6H703M55 1065.8H703M55 1083.4H703M55 1099.4H703M55 1113.8H703M55 1126.6H703M55 1136.2H703M55 1144.2H703" stroke="rgba(0,0,0,0.1)" stroke-width="1"/>
<rect x="55" y="985" width="648" height="160" fill="url(#vgW)"/>
<line x1="556.6" y1="985" x2="556.6" y2="1145" stroke="rgba(220,90,90,0.35)" stroke-width="1.5"/>
<g style="font-size:14px;font-weight:bold;text-anchor:middle">
<g transform="translate(136,0)"><text y="999.2" fill="#f1cdbd">10</text><text y="1019.6" fill="#ead5bb">9</text><text y="1041.2" fill="#e7dcb3">8</text><text y="1061.2" fill="#dfe4b8">7</text><text y="1079.6" fill="#d5e4b6">6</text><text y="1096.4" fill="#c9e5c0">5</text><text y="1111.6" fill="#bfe7c8">4</text><text y="1125.2" fill="#c6ebd9">3</text><text y="1136.4" fill="#c6ece4">2</text></g>
<g transform="translate(298,0)"><text y="999.2" fill="#f1cdbd">10</text><text y="1019.6" fill="#ead5bb">9</text><text y="1041.2" fill="#e7dcb3">8</text><text y="1061.2" fill="#dfe4b8">7</text><text y="1079.6" fill="#d5e4b6">6</text><text y="1096.4" fill="#c9e5c0">5</text><text y="1111.6" fill="#bfe7c8">4</text><text y="1125.2" fill="#c6ebd9">3</text><text y="1136.4" fill="#c6ece4">2</text></g>
<g transform="translate(460,0)"><text y="999.2" fill="#f1cdbd">10</text><text y="1019.6" fill="#ead5bb">9</text><text y="1041.2" fill="#e7dcb3">8</text><text y="1061.2" fill="#dfe4b8">7</text><text y="1079.6" fill="#d5e4b6">6</text><text y="1096.4" fill="#c9e5c0">5</text><text y="1111.6" fill="#bfe7c8">4</text><text y="1125.2" fill="#c6ebd9">3</text><text y="1136.4" fill="#c6ece4">2</text></g>
<g transform="translate(622,0)"><text y="999.2" fill="#f1cdbd">10</text><text y="1019.6" fill="#ead5bb">9</text><text y="1041.2" fill="#e7dcb3">8</text><text y="1061.2" fill="#dfe4b8">7</text><text y="1079.6" fill="#d5e4b6">6</text><text y="1096.4" fill="#c9e5c0">5</text><text y="1111.6" fill="#bfe7c8">4</text><text y="1125.2" fill="#c6ebd9">3</text><text y="1136.4" fill="#c6ece4">2</text></g>
</g>
<g class="s"><text x="63" y="999">Ff: 27.7 km/h</text><text x="139" y="999">Fxm: 50.2 km/h</text><text x="228" y="999">Fxx: 88.6 km/h</text><text x="312" y="999">Fmx: 68.4 km/h</text><text x="399" y="999">Ffx: 51.5 km/h</text><text x="481" y="999">nFx≥12Bft: 0</text></g>
<polyline fill="none" stroke="#d2237c" stroke-width="1.3" points="65.5,1002.6 86.4,1004.2 107.3,1021.8 128.2,1037.8 149.1,1082.6 170,1082.6 190.9,1065 211.8,1071.4 232.7,1037.8 253.6,1045.8 274.5,1034.6 295.4,1081 316.3,1089 337.2,1087.4 358.1,1089 379,1082.6 399.9,1092.2 420.8,1071.4 441.7,1076.2 462.6,1090.6 483.5,1085.8 504.4,1074.6 525.3,1069.8 546.2,1081"/>
<polyline fill="none" stroke="#ff8850" stroke-width="1.3" points="65.5,1063.4 86.4,1068.2 107.3,1079.4 128.2,1082.6 149.1,1108.2 170,1106.6 190.9,1106.6 211.8,1103.4 232.7,1082.6 253.6,1087.4 274.5,1073 295.4,1114.6 316.3,1117.8 337.2,1109.8 358.1,1121 379,1114.6 399.9,1117.8 420.8,1106.6 441.7,1103.4 462.6,1122.6 483.5,1121 504.4,1101.8 525.3,1100.2 546.2,1106.6"/>
<g fill="#d2237c">
<circle cx="65.5" cy="1002.6" r="1.8"/><circle cx="86.4" cy="1004.2" r="1.8"/><circle cx="107.3" cy="1021.8" r="1.8"/><circle cx="128.2" cy="1037.8" r="1.8"/><circle cx="149.1" cy="1082.6" r="1.8"/><circle cx="170" cy="1082.6" r="1.8"/><circle cx="190.9" cy="1065" r="1.8"/><circle cx="211.8" cy="1071.4" r="1.8"/><circle cx="232.7" cy="1037.8" r="1.8"/><circle cx="253.6" cy="1045.8" r="1.8"/><circle cx="274.5" cy="1034.6" r="1.8"/><circle cx="295.4" cy="1081" r="1.8"/><circle cx="316.3" cy="1089" r="1.8"/><circle cx="337.2" cy="1087.4" r="1.8"/><circle cx="358.1" cy="1089" r="1.8"/><circle cx="379" cy="1082.6" r="1.8"/><circle cx="399.9" cy="1092.2" r="1.8"/><circle cx="420.8" cy="1071.4" r="1.8"/><circle cx="441.7" cy="1076.2" r="1.8"/><circle cx="462.6" cy="1090.6" r="1.8"/><circle cx="483.5" cy="1085.8" r="1.8"/><circle cx="504.4" cy="1074.6" r="1.8"/><circle cx="525.3" cy="1069.8" r="1.8"/><circle cx="546.2" cy="1081" r="1.8"/>
</g>
<g fill="#ff8850">
<circle cx="65.5" cy="1063.4" r="1.8"/><circle cx="86.4" cy="1068.2" r="1.8"/><circle cx="107.3" cy="1079.4" r="1.8"/><circle cx="128.2" cy="1082.6" r="1.8"/><circle cx="149.1" cy="1108.2" r="1.8"/><circle cx="170" cy="1106.6" r="1.8"/><circle cx="190.9" cy="1106.6" r="1.8"/><circle cx="211.8" cy="1103.4" r="1.8"/><circle cx="232.7" cy="1082.6" r="1.8"/><circle cx="253.6" cy="1087.4" r="1.8"/><circle cx="274.5" cy="1073" r="1.8"/><circle cx="295.4" cy="1114.6" r="1.8"/><circle cx="316.3" cy="1117.8" r="1.8"/><circle cx="337.2" cy="1109.8" r="1.8"/><circle cx="358.1" cy="1121" r="1.8"/><circle cx="379" cy="1114.6" r="1.8"/><circle cx="399.9" cy="1117.8" r="1.8"/><circle cx="420.8" cy="1106.6" r="1.8"/><circle cx="441.7" cy="1103.4" r="1.8"/><circle cx="462.6" cy="1122.6" r="1.8"/><circle cx="483.5" cy="1121" r="1.8"/><circle cx="504.4" cy="1101.8" r="1.8"/><circle cx="525.3" cy="1100.2" r="1.8"/><circle cx="546.2" cy="1106.6" r="1.8"/>
</g>
<g class="v9" fill="#d4307f">
<text x="65.5" y="999.1">89</text><text x="86.4" y="1000.7">88</text><text x="107.3" y="1018.3">77</text><text x="128.2" y="1034.3">67</text><text x="149.1" y="1079.1">39</text><text x="170" y="1079.1">39</text><text x="190.9" y="1061.5">50</text><text x="211.8" y="1067.9">46</text><text x="232.7" y="1034.3">67</text><text x="253.6" y="1042.3">62</text><text x="274.5" y="1031.1">69</text><text x="295.4" y="1077.5">40</text><text x="316.3" y="1086">35</text><text x="337.2" y="1083.9">36</text><text x="358.1" y="1086">35</text><text x="379" y="1079.1">39</text><text x="399.9" y="1088.7">33</text><text x="420.8" y="1067.9">46</text><text x="441.7" y="1072.7">43</text><text x="462.6" y="1087.1">34</text><text x="483.5" y="1082.3">37</text><text x="504.4" y="1071.1">44</text><text x="525.3" y="1066.3">47</text><text x="546.2" y="1077.5">40</text>
</g>
<g class="v9" fill="#ff9060">
<text x="65.5" y="1059.9">51</text><text x="86.4" y="1064.7">48</text><text x="107.3" y="1075.9">41</text><text x="128.2" y="1079.1">39</text><text x="149.1" y="1104.7">23</text><text x="170" y="1103.1">24</text><text x="190.9" y="1103.1">24</text><text x="211.8" y="1099.9">26</text><text x="232.7" y="1079.1">39</text><text x="253.6" y="1083.9">36</text><text x="274.5" y="1069.5">45</text><text x="295.4" y="1111.1">19</text><text x="316.3" y="1114.3">17</text><text x="337.2" y="1106.3">22</text><text x="358.1" y="1117.5">15</text><text x="379" y="1111.1">19</text><text x="399.9" y="1114.3">17</text><text x="420.8" y="1103.1">24</text><text x="441.7" y="1099.9">26</text><text x="462.6" y="1119.1">14</text><text x="483.5" y="1117.5">15</text><text x="504.4" y="1098.3">27</text><text x="525.3" y="1096.7">28</text><text x="546.2" y="1103.1">24</text>
</g>
<rect x="55" y="985" width="648" height="160" class="fr"/>
<g class="y"><text x="51" y="989">100</text><text x="51" y="1005">90</text><text x="51" y="1021">80</text><text x="51" y="1037">70</text><text x="51" y="1053">60</text><text x="51" y="1069">50</text><text x="51" y="1085">40</text><text x="51" y="1101">30</text><text x="51" y="1117">20</text><text x="51" y="1133">10</text><text x="51" y="1149">0</text></g>
<text class="lt" transform="translate(27,1065) rotate(-90)">km/h</text>
<text class="lt" style="font-size:11.5px" transform="translate(720,1065) rotate(-90)">Windgeschwindigkeit</text>
<g class="d" transform="translate(0,1158)"><text x="65.5">1</text><text x="86.4">2</text><text x="107.3">3</text><text x="128.2">4</text><text x="149.1">5</text><text x="170">6</text><text x="190.9">7</text><text x="211.8">8</text><text x="232.7">9</text><text x="253.6">10</text><text x="274.5">11</text><text x="295.4">12</text><text x="316.3">13</text><text x="337.2">14</text><text x="358.1">15</text><text x="379">16</text><text x="399.9">17</text><text x="420.8">18</text><text x="441.7">19</text><text x="462.6">20</text><text x="483.5">21</text><text x="504.4">22</text><text x="525.3">23</text><text x="546.2">24</text><text x="567.1">25</text><text x="588">26</text><text x="608.9">27</text><text x="629.8">28</text><text x="650.7">29</text><text x="671.6">30</text><text x="692.6">31</text></g>

<text x="364.5" y="1171.5" text-anchor="middle" style="font-size:11px;fill:#9a9a9a" textLength="463" lengthAdjust="spacingAndGlyphs">Erstellt von mtwetter.de | Datenbasis: Deutscher Wetterdienst, dwd.de | 24.01.2026, 17:09 UTC</text>
</svg>
</body></html>
